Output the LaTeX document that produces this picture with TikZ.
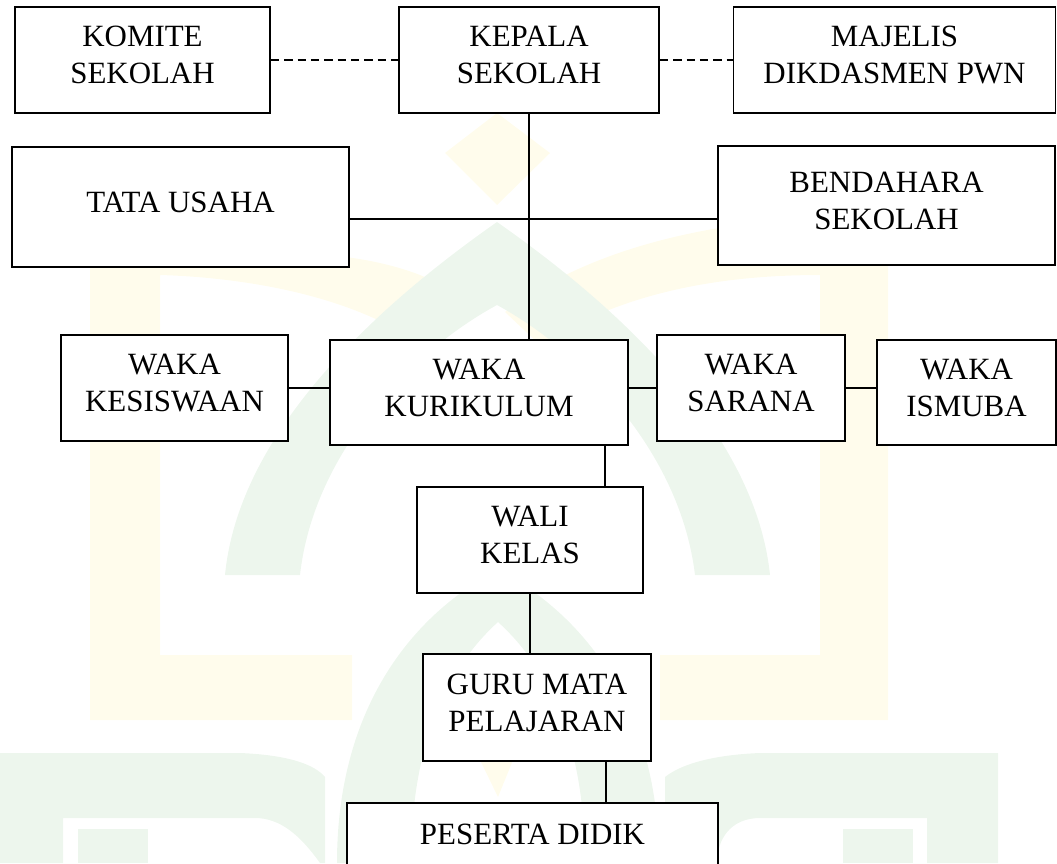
\documentclass[tikz,border=0pt]{standalone}
\usepackage{fontspec}
\setmainfont{Liberation Serif}
\definecolor{wmyellow}{RGB}{255,252,236}
\definecolor{wmgreen}{RGB}{237,246,237}

\begin{document}
\begin{tikzpicture}[x=0.025cm,y=-0.025cm,
	kotak/.style 2 args={draw,fill=white,line width=1.2pt,minimum width=#1*0.025cm,minimum height=#2*0.025cm,align=center,inner sep=0pt,font=\fontsize{22}{26.3}\selectfont,execute at end node={\rule[-7pt]{0pt}{7pt}}},
	garis/.style={line width=1.2pt},
	putus/.style={line width=1.2pt,dash pattern=on 6pt off 3.5pt}]

\useasboundingbox (0,0) rectangle (1057,863);
\clip (0,0) rectangle (1057,863);

% watermark
\fill[wmyellow] (445,153)--(497,113)--(550,153)--(497,205)--cycle;
\fill[wmyellow] (90,720)--(90,268) .. controls (200,255) and (330,238) .. (425,277)--(388,325) .. controls (320,290) and (230,277) .. (160,275)--(160,655)--(352,655)--(352,720)--cycle;
\fill[wmyellow] (505,312) .. controls (580,255) and (700,215) .. (888,215)--(888,720)--(660,720)--(660,655)--(820,655)--(820,275) .. controls (700,275) and (610,300) .. (540,345)--cycle;
\fill[wmyellow] (480,760)--(513,760)--(498,797)--cycle;
\fill[wmgreen] (225,575) .. controls (240,420) and (400,290) .. (497,222) .. controls (594,290) and (754,420) .. (770,575)--(695,575) .. controls (680,450) and (580,350) .. (497,305) .. controls (414,350) and (314,450) .. (300,575)--cycle;
\fill[wmgreen] (337,863) .. controls (337,700) and (420,610) .. (498,570) .. controls (576,610) and (659,700) .. (659,863)--(585,863) .. controls (585,730) and (540,660) .. (498,622) .. controls (456,660) and (411,730) .. (411,863)--cycle;
\fill[wmgreen] (0,863)--(0,753)--(240,753) .. controls (290,755) and (315,765) .. (325,777)--(325,863)--(320,863) .. controls (300,835) and (280,818) .. (255,818)--(63,818)--(63,863)--cycle;
\fill[wmgreen] (78,829) rectangle (148,863);
\fill[wmgreen] (998,863)--(998,753)--(760,753) .. controls (710,755) and (680,765) .. (665,777)--(665,863)--(717,863) .. controls (717,840) and (730,818) .. (760,818)--(927,818)--(927,863)--cycle;
\fill[wmgreen] (843,829) rectangle (913,863);

\node[kotak={255}{106}] (komite) at (142.5,60) {KOMITE\\SEKOLAH};
\node[kotak={260}{106}] (kepala) at (529,60) {KEPALA\\SEKOLAH};
\node[kotak={322}{106}] (majelis) at (894.5,60) {MAJELIS\\DIKDASMEN PWN};
\node[kotak={337}{120}] (tata) at (180.5,207) {TATA USAHA};
\node[kotak={337}{119}] (bendahara) at (886.5,205.5) {BENDAHARA\\SEKOLAH};
\node[kotak={227}{106}] (kesiswaan) at (174.5,388) {WAKA\\KESISWAAN};
\node[kotak={298}{105}] (kurikulum) at (479,392.5) {WAKA\\KURIKULUM};
\node[kotak={188}{106}] (sarana) at (751,388) {WAKA\\SARANA};
\node[kotak={179}{105}] (ismuba) at (966.5,392.5) {WAKA\\ISMUBA};
\node[kotak={226}{106}] (wali) at (530,540) {WALI\\KELAS};
\node[kotak={228}{107}] (guru) at (537,707.5) {GURU MATA\\PELAJARAN};
\node[kotak={371}{147},anchor=north,text depth=60pt] (peserta) at (532.5,802) {PESERTA DIDIK};

\draw[putus] (komite.east)--(kepala.west);
\draw[putus] (kepala.east)--(majelis.west);
\draw[garis] (kepala.south)--(kepala.south |- kurikulum.north);
\draw[garis] ([yshift=-0.3cm]tata.east)--([yshift=-0.3cm]tata.east -| bendahara.west);
\draw[garis] (kesiswaan.east)--(kesiswaan.east -| kurikulum.west);
\draw[garis] (sarana.west -| kurikulum.east)--(sarana.west);
\draw[garis] (sarana.east)--(sarana.east -| ismuba.west);
\draw[garis] ([xshift=-0.6cm]kurikulum.south east)--([xshift=-0.6cm]kurikulum.south east |- wali.north);
\draw[garis] (wali.south)--(wali.south |- guru.north);
\draw[garis] ([xshift=-1.15cm]guru.south east)--([xshift=-1.15cm]guru.south east |- peserta.north);

\end{tikzpicture}
\end{document}
